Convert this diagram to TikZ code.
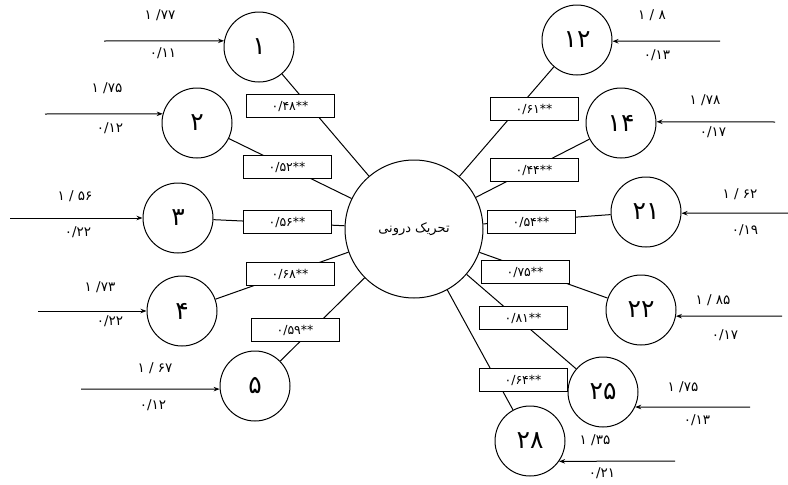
\documentclass[tikz,border=0pt]{standalone}
\usepackage{fontspec}
\newfontfamily\fa[Script=Arabic]{DejaVu Sans}
\newfontfamily\fd{DejaVu Sans}
\TeXXeTstate=1
\usetikzlibrary{arrows.meta}
\tikzset{
  ind/.style={circle,draw,line width=1pt,minimum size=70pt,inner sep=0pt,font=\fd\fontsize{25}{25}\selectfont},
  lat/.style={circle,draw,line width=1pt,minimum size=138pt,inner sep=0pt,font=\fa\fontsize{13}{13}\selectfont},
  lab/.style={draw,fill=white,line width=1pt,minimum width=88pt,minimum height=23pt,inner sep=0pt,font=\fd\fontsize{12.5}{12.5}\selectfont},
  ev/.style={inner sep=0pt,font=\fd\fontsize{13.5}{13.5}\selectfont},
  link/.style={line width=1pt},
  arr/.style={line width=1pt,-{Stealth[length=6pt,width=4.5pt]}}
}
\begin{document}
\begin{tikzpicture}[x=1pt,y=-1pt]
\useasboundingbox (0,0) rectangle (788,485);
% latent
\node[lat] (c) at (414,229) {\beginR تحریک درونی\endR};
% indicators
\node[ind] (n1) at (259,47) {۱};
\node[ind] (n2) at (197,123) {۲};
\node[ind] (n3) at (178,218) {۳};
\node[ind] (n4) at (182,311) {۴};
\node[ind] (n5) at (255,386) {۵};
\node[ind] (n12) at (577,40) {\beginR\beginL ۱۲\endL\endR};
\node[ind] (n14) at (621,123) {\beginR\beginL ۱۴\endL\endR};
\node[ind] (n21) at (646,212) {\beginR\beginL ۲۱\endL\endR};
\node[ind] (n22) at (641,310) {\beginR\beginL ۲۲\endL\endR};
\node[ind] (n25) at (603,392) {\beginR\beginL ۲۵\endL\endR};
\node[ind] (n28) at (530,441) {\beginR\beginL ۲۸\endL\endR};
% links
\foreach \n in {n1,n2,n3,n4,n5,n12,n14,n21,n22,n25,n28}
  \draw[link] (\n) -- (c);
% loading boxes
\node[lab] (b1) at (290,106) {\beginR\beginL ۰/۴۸**\endL\endR};
\node[lab] (b2) at (287,167) {\beginR\beginL ۰/۵۲**\endL\endR};
\node[lab] (b3) at (287,222) {\beginR\beginL ۰/۵۶**\endL\endR};
\node[lab] (b4) at (290,274) {\beginR\beginL ۰/۶۸**\endL\endR};
\node[lab] (b5) at (295,330) {\beginR\beginL ۰/۵۹**\endL\endR};
\node[lab] (b12) at (534,109) {\beginR\beginL ۰/۶۱**\endL\endR};
\node[lab] (b14) at (534,170) {\beginR\beginL ۰/۴۴**\endL\endR};
\node[lab] (b21) at (531,222) {\beginR\beginL ۰/۵۴**\endL\endR};
\node[lab] (b22) at (525,272) {\beginR\beginL ۰/۷۵**\endL\endR};
\node[lab] (b25) at (523,318) {\beginR\beginL ۰/۸۱**\endL\endR};
\node[lab] (b28) at (523,380) {\beginR\beginL ۰/۶۴**\endL\endR};
% error arrows
\coordinate (s1) at (104,41);
\coordinate (s2) at (45,114);
\coordinate (s3) at (10,218);
\coordinate (s4) at (38,311);
\coordinate (s5) at (81,389);
\coordinate (s12) at (720,41);
\coordinate (s14) at (775,122);
\coordinate (s21) at (788,213);
\coordinate (s22) at (782,316);
\coordinate (s25) at (750,407);
\coordinate (s28) at (675,461);
\draw[arr] (s1) -- (n1.170);
\draw[arr] (s2) -- (n2.165);
\draw[arr] (s3) -- (n3.180);
\draw[arr] (s4) -- (n4.180);
\draw[arr] (s5) -- (n5.185);
\draw[arr] (s12) -- (n12.-2);
\draw[arr] (s14) -- (n14.2);
\draw[arr] (s21) -- (n21.-2);
\draw[arr] (s22) -- (n22.-10);
\draw[arr] (s25) -- (n25.-25);
\draw[arr] (s28) -- (n28.-35);
% error labels
\node[ev] (u1) at (160,15) {\beginR\beginL ۱ /۷۷\endL\endR};
\node[ev] (d1) at (163,53) {\beginR\beginL ۰/۱۱\endL\endR};
\node[ev] (u2) at (107,88) {\beginR\beginL ۱ /۷۵\endL\endR};
\node[ev] (d2) at (110,128) {\beginR\beginL ۰/۱۲\endL\endR};
\node[ev] (u3) at (75,196) {\beginR\beginL ۱ / ۵۶\endL\endR};
\node[ev] (d3) at (78,232) {\beginR\beginL ۰/۲۲\endL\endR};
\node[ev] (u4) at (100,287) {\beginR\beginL ۱ /۷۳\endL\endR};
\node[ev] (d4) at (110,321) {\beginR\beginL ۰/۲۲\endL\endR};
\node[ev] (u5) at (155,368) {\beginR\beginL ۱ / ۶۷\endL\endR};
\node[ev] (d5) at (153,405) {\beginR\beginL ۰/۱۲\endL\endR};
\node[ev] (u12) at (652,15) {\beginR\beginL ۱ / ۸\endL\endR};
\node[ev] (d12) at (657,55) {\beginR\beginL ۰/۱۳\endL\endR};
\node[ev] (u14) at (705,100) {\beginR\beginL ۱ /۷۸\endL\endR};
\node[ev] (d14) at (713,132) {\beginR\beginL ۰/۱۷\endL\endR};
\node[ev] (u21) at (740,194) {\beginR\beginL ۱ / ۶۲\endL\endR};
\node[ev] (d21) at (745,230) {\beginR\beginL ۰/۱۹\endL\endR};
\node[ev] (u22) at (713,300) {\beginR\beginL ۱ / ۸۵\endL\endR};
\node[ev] (d22) at (725,335) {\beginR\beginL ۰/۱۷\endL\endR};
\node[ev] (u25) at (683,387) {\beginR\beginL ۱ /۷۵\endL\endR};
\node[ev] (d25) at (697,420) {\beginR\beginL ۰/۱۳\endL\endR};
\node[ev] (u28) at (595,440) {\beginR\beginL ۱ /۳۵\endL\endR};
\node[ev] (d28) at (602,473) {\beginR\beginL ۰/۲۱\endL\endR};
\end{tikzpicture}
\end{document}
